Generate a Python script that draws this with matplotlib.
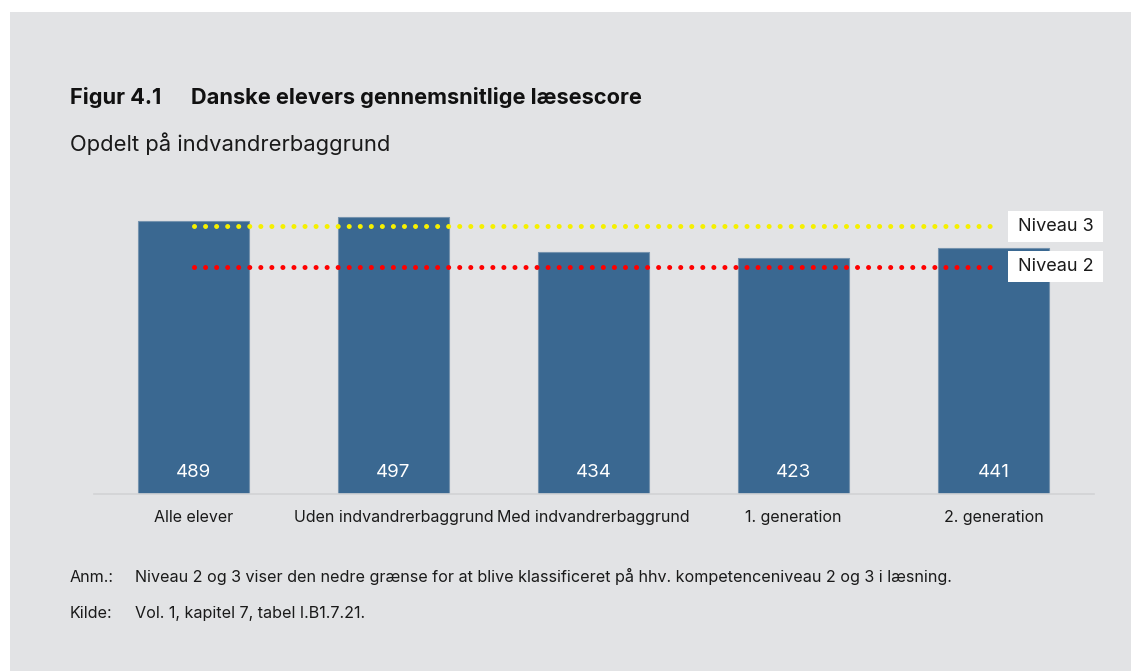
import matplotlib
matplotlib.use("Agg")
import matplotlib.pyplot as plt
from matplotlib.patches import Rectangle

categories = ["Alle elever", "Uden indvandrerbaggrund", "Med indvandrerbaggrund",
              "1. generation", "2. generation"]
scores = [489, 497, 434, 423, 441]
niveau_labels = ["Niveau 3", "Niveau 2"]
niveau_values = [480, 407]
niveau_colors = ["#f5f000", "#ff0000"]

W, H = 1131, 671
fig = plt.figure(figsize=(W / 100, H / 100), dpi=100)
fig.patch.set_facecolor("white")
fig.patches.append(Rectangle((10 / W, 0), 1 - 10 / W, 1 - 12 / H, transform=fig.transFigure,
                             facecolor="#e2e3e5", edgecolor="none", zorder=-10))

font = "Inter"
ax = fig.add_axes([93.5 / W, (H - 494) / H, 1000 / W, 307 / H])
ax.set_facecolor("none")
x = list(range(len(categories)))
ax.bar(x, scores, width=0.555, color="#3a6891", edgecolor="#7593ae", linewidth=0.8, zorder=2)
for xi, v in zip(x, scores):
    ax.text(xi, 38, str(v), ha="center", va="center", color="white", fontsize=13.5,
            family=font, zorder=3)

px = 0.5585  # pixels per data unit (layout helper)
for lab, val, col in zip(niveau_labels, niveau_values, niveau_colors):
    ax.plot([0, 4], [val, val], color=col, linewidth=3.6, linestyle=(0, (0.01, 2.2)),
            dash_capstyle="round", zorder=4)
    ax.add_patch(Rectangle((4.073, val - 15.5 / px), 0.475, 31 / px, facecolor="white",
                           edgecolor="none", clip_on=False, zorder=5))
    ax.text(4.12, val, lab, ha="left", va="center", fontsize=13, family=font, color="#1a1a1a",
            clip_on=False, zorder=6)

ax.set_xlim(-0.5, 4.5)
ax.set_ylim(0, 550)
ax.set_xticks(x)
ax.set_xticklabels(categories, fontsize=11.5, family=font, color="#1a1a1a")
ax.tick_params(axis="x", length=0, pad=11.5)
ax.set_yticks([])
for s in ["top", "right", "left"]:
    ax.spines[s].set_visible(False)
ax.spines["bottom"].set_color("#d2d3d5")
ax.spines["bottom"].set_linewidth(1.2)

fig.text(70 / W, 1 - 97 / H, "Figur 4.1", fontsize=15.7, fontweight="bold", family=font,
         va="center", ha="left", color="#111111")
fig.text(191 / W, 1 - 97 / H, "Danske elevers gennemsnitlige læsescore", fontsize=15.7,
         fontweight="bold", family=font, va="center", ha="left", color="#111111")
fig.text(70 / W, 1 - 144 / H, "Opdelt på indvandrerbaggrund", fontsize=15.8, family=font,
         va="center", ha="left", color="#1a1a1a")

foot = dict(fontsize=11.6, family=font, va="baseline", ha="left", color="#1a1a1a")
fig.text(70 / W, 1 - 582 / H, "Anm.:", **foot)
fig.text(135 / W, 1 - 582 / H,
         "Niveau 2 og 3 viser den nedre grænse for at blive klassificeret på hhv. kompetenceniveau 2 og 3 i læsning.",
         **foot)
fig.text(70 / W, 1 - 618 / H, "Kilde:", **foot)
fig.text(135 / W, 1 - 618 / H, "Vol. 1, kapitel 7, tabel I.B1.7.21.", **foot)

fig.savefig("out.png", dpi=100)
